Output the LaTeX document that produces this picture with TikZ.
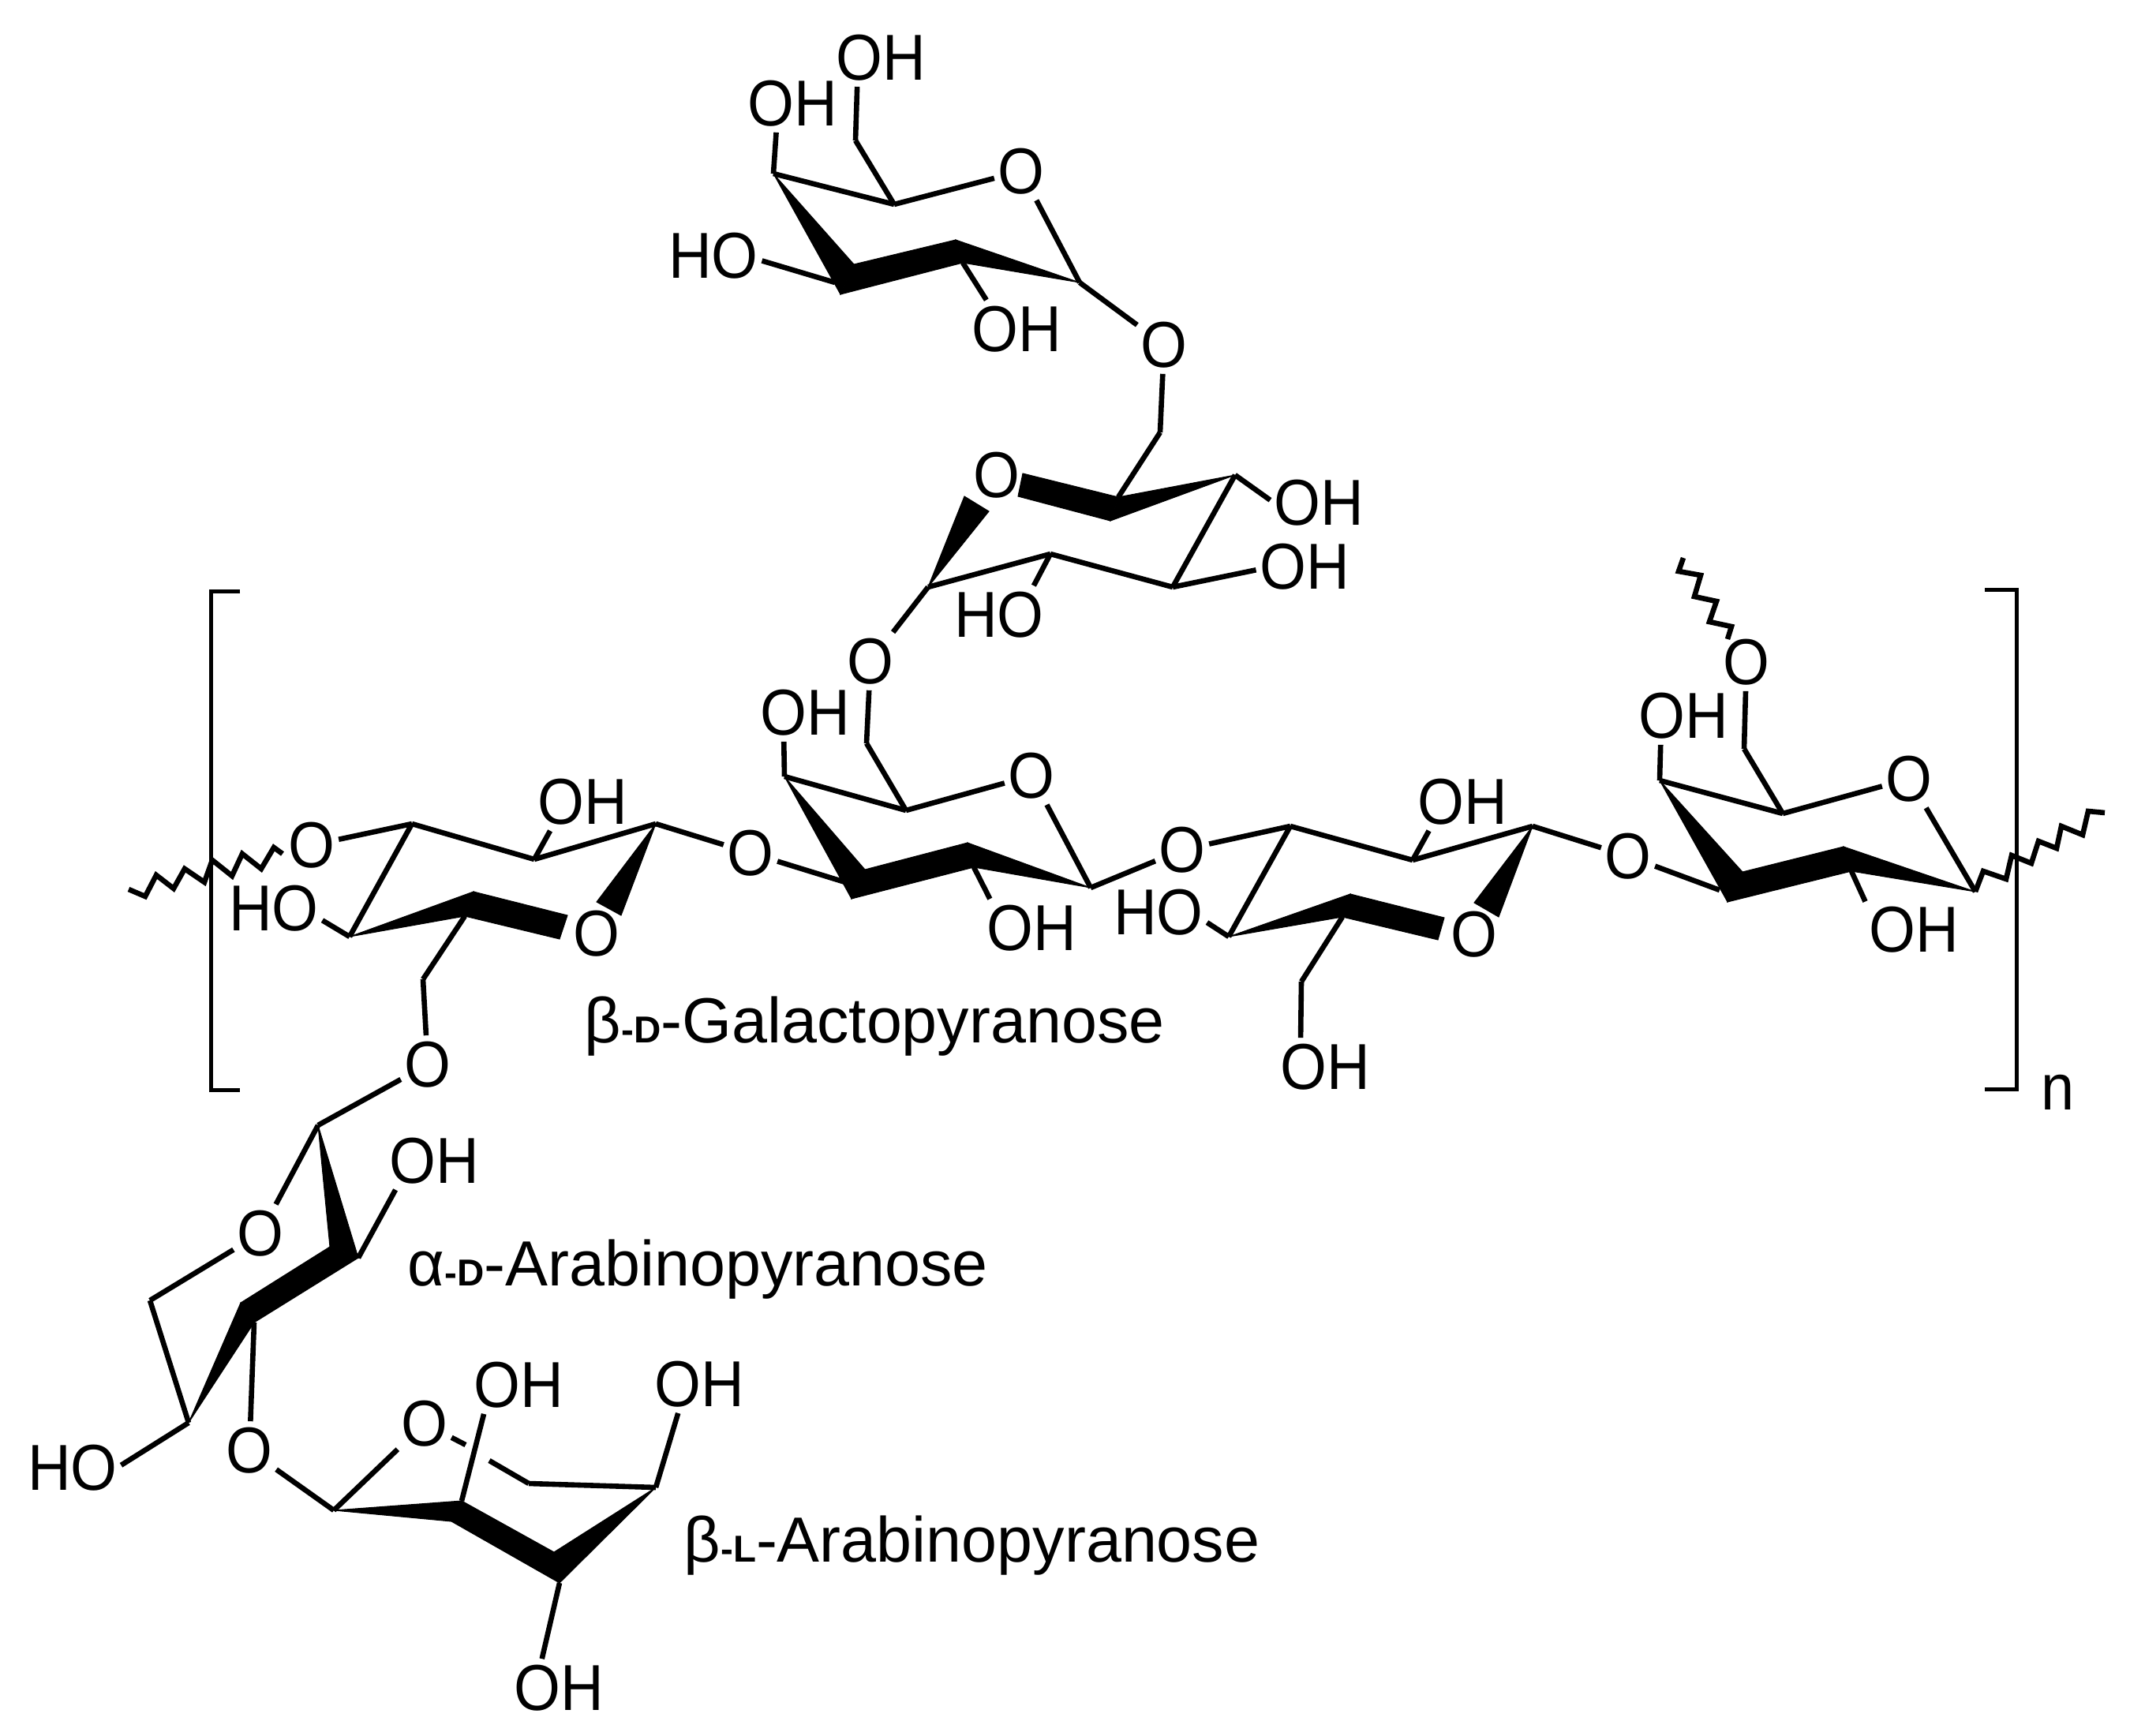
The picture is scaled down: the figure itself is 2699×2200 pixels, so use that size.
\documentclass[tikz,border=0pt]{standalone}
\usepackage{fontspec}
\setmainfont{Liberation Sans}
\newfontfamily\atomfont[FakeStretch=0.92]{Liberation Sans}
\usetikzlibrary{positioning}
\newcommand{\smallcap}[1]{{\fontsize{13.5}{14}\selectfont\bfseries #1}}

\begin{document}
\begin{tikzpicture}[
    x=0.01cm, y=-0.01cm,
    atom/.style={inner xsep=0.04cm, inner ysep=0.07cm, font=\atomfont\fontsize{23.4}{26}\selectfont},
    sugar/.style={inner sep=0pt, anchor=base west, font=\fontsize{23}{26}\selectfont},
    bond/.style={line width=0.066cm, line join=miter},
    bracket/.style={line width=0.05cm},
    solid wedge/.style={fill=black, draw=black, line width=0.01cm}
]
    \useasboundingbox (0,0) rectangle (2699,2200);

    \coordinate (t1) at (1368,358);
    \coordinate (t2a) at (1211,304);
    \coordinate (t2b) at (1220,333);
    \coordinate (t3a) at (1082,335);
    \coordinate (t3b) at (1065,373);
    \coordinate (t3c) at (1058,358);
    \coordinate (t4) at (980,220);
    \coordinate (t5) at (1133,259);
    \coordinate (t6) at (1084,178);
    \node[atom] (tor) at (1294,217) {O};
    \node[atom] (tl) at (1475,437) {O};
    \node[atom] (toh6) at (1116,73) {OH};
    \node[atom] (toh4) at (1004,131) {OH};
    \node[atom] (tho3) at (904,324) {HO};
    \node[atom] (toh2) at (1288,417) {OH};

    \fill[solid wedge] (t4) -- (t3a) -- (t3b) -- cycle;
    \fill[solid wedge] (t3a) -- (t2a) -- (t2b) -- (t3b) -- cycle;
    \fill[solid wedge] (t2a) -- (t1) -- (t2b) -- cycle;
    \draw[bond] (t4) -- (t5);
    \draw[bond] (t5) -- (tor);
    \draw[bond] (tor) -- (t1);
    \draw[bond] (t5) -- (t6);
    \draw[bond] (t6) -- (toh6.-129);
    \draw[bond] (t4) -- (toh4.-119);
    \draw[bond] (t3c) -- (tho3.-6);
    \draw[bond] (t2b) -- (toh2.136);
    \draw[bond] (t1) -- (tl);

    \coordinate (u1) at (1176,744);
    \coordinate (u2) at (1331,702);
    \coordinate (u3) at (1486,744);
    \coordinate (u4) at (1565,602);
    \coordinate (u5a) at (1417,630);
    \coordinate (u5b) at (1407,660);
    \coordinate (u6) at (1470,548);
    \coordinate (uoa) at (1296,600);
    \coordinate (uob) at (1290,629);
    \coordinate (uwa) at (1222,629);
    \coordinate (uwb) at (1253,648);
    \node[atom] (uor) at (1263,602) {O};
    \node[atom] (ul) at (1103,838) {O};
    \node[atom] (uoh4) at (1671,637) {OH};
    \node[atom] (uoh3) at (1653,718) {OH};
    \node[atom] (uho2) at (1266,779) {HO};

    \fill[solid wedge] (uoa) -- (u5a) -- (u5b) -- (uob) -- cycle;
    \fill[solid wedge] (u5a) -- (u4) -- (u5b) -- cycle;
    \fill[solid wedge] (u1) -- (uwa) -- (uwb) -- cycle;
    \draw[bond] (tl) -- (u6);
    \draw[bond] (u6) -- (u5a);
    \draw[bond] (u4) -- (uoh4.177);
    \draw[bond] (u4) -- (u3);
    \draw[bond] (u3) -- (uoh3.-176);
    \draw[bond] (u3) -- (u2);
    \draw[bond] (u2) -- (uho2.40);
    \draw[bond] (u2) -- (u1);
    \draw[bond] (u1) -- (ul);

    \coordinate (a1) at (831,1044);
    \coordinate (a2) at (677,1089);
    \coordinate (a3) at (522,1044);
    \coordinate (a4) at (443,1187);
    \coordinate (a5a) at (600,1130);
    \coordinate (a5b) at (589,1161);
    \coordinate (a6) at (536,1241);
    \coordinate (aoa) at (719,1160);
    \coordinate (aob) at (709,1190);
    \coordinate (awa) at (756,1143);
    \coordinate (awb) at (787,1160);
    \node[atom] (aor) at (756,1183) {O};
    \node[atom] (al) at (395,1071) {O};
    \node[atom] (ao6) at (542,1349) {O};
    \node[atom] (aoh2) at (738,1016) {OH};
    \node[atom] (aho4) at (347,1151) {HO};

    \fill[solid wedge] (a4) -- (a5a) -- (a5b) -- cycle;
    \fill[solid wedge] (a5a) -- (aoa) -- (aob) -- (a5b) -- cycle;
    \fill[solid wedge] (a1) -- (awa) -- (awb) -- cycle;
    \draw[bond] (al) -- (a3);
    \draw[bond] (a3) -- (a2);
    \draw[bond] (a2) -- (a1);
    \draw[bond] (a2) -- (aoh2.-138);
    \draw[bond] (a3) -- (a4);
    \draw[bond] (a4) -- (aho4.-14);
    \draw[bond] (a5b) -- (a6);
    \draw[bond] (a6) -- (ao6);

    \coordinate (b1) at (1382,1125);
    \coordinate (b2a) at (1226,1068);
    \coordinate (b2b) at (1234,1099);
    \coordinate (b3a) at (1096,1102);
    \coordinate (b3b) at (1079,1139);
    \coordinate (b3c) at (1071,1118);
    \coordinate (b4) at (994,984);
    \coordinate (b5) at (1148,1027);
    \coordinate (b6) at (1098,942);
    \node[atom] (bor) at (1307,983) {O};
    \node[atom] (bl) at (951,1081) {O};
    \node[atom] (boh4) at (1020,903) {OH};
    \node[atom] (boh2) at (1307,1176) {OH};

    \fill[solid wedge] (b4) -- (b3a) -- (b3b) -- cycle;
    \fill[solid wedge] (b3a) -- (b2a) -- (b2b) -- (b3b) -- cycle;
    \fill[solid wedge] (b2a) -- (b1) -- (b2b) -- cycle;
    \draw[bond] (ul) -- (b6);
    \draw[bond] (b6) -- (b5);
    \draw[bond] (b4) -- (b5);
    \draw[bond] (b5) -- (bor);
    \draw[bond] (bor) -- (b1);
    \draw[bond] (b4) -- (boh4.-126);
    \draw[bond] (b2b) -- (boh2.145);
    \draw[bond] (a1) -- (bl);
    \draw[bond] (bl) -- (b3c);

    \coordinate (c1) at (1942,1047);
    \coordinate (c2) at (1790,1090);
    \coordinate (c3) at (1635,1047);
    \coordinate (c4) at (1557,1187);
    \coordinate (c5a) at (1711,1133);
    \coordinate (c5b) at (1701,1162);
    \coordinate (c6) at (1649,1244);
    \coordinate (coa) at (1830,1163);
    \coordinate (cob) at (1822,1191);
    \coordinate (cwa) at (1868,1144);
    \coordinate (cwb) at (1899,1162);
    \node[atom] (cor) at (1868,1184) {O};
    \node[atom] (cl) at (1498,1077) {O};
    \node[atom] (coh2) at (1853,1016) {OH};
    \node[atom] (cho4) at (1468,1156) {HO};
    \node[atom] (coh6) at (1679,1352) {OH};

    \fill[solid wedge] (c4) -- (c5a) -- (c5b) -- cycle;
    \fill[solid wedge] (c5a) -- (coa) -- (cob) -- (c5b) -- cycle;
    \fill[solid wedge] (c1) -- (cwa) -- (cwb) -- cycle;
    \draw[bond] (b1) -- (cl);
    \draw[bond] (cl) -- (c3);
    \draw[bond] (c3) -- (c2);
    \draw[bond] (c2) -- (c1);
    \draw[bond] (c2) -- (coh2.-139);
    \draw[bond] (c3) -- (c4);
    \draw[bond] (c4) -- (cho4.-12);
    \draw[bond] (c5b) -- (c6);
    \draw[bond] (c6) -- (coh6.130);

    \coordinate (d1) at (2503,1130);
    \coordinate (d2a) at (2336,1073);
    \coordinate (d2b) at (2346,1104);
    \coordinate (d3a) at (2208,1105);
    \coordinate (d3b) at (2189,1143);
    \coordinate (d3c) at (2179,1128);
    \coordinate (d4) at (2103,989);
    \coordinate (d5) at (2259,1031);
    \coordinate (d6) at (2210,949);
    \node[atom] (dl) at (2063,1085) {O};
    \node[atom] (dor) at (2419,987) {O};
    \node[atom] (do6) at (2213,839) {O};
    \node[atom] (doh4) at (2133,907) {OH};
    \node[atom] (doh2) at (2425,1178) {OH};

    \fill[solid wedge] (d4) -- (d3a) -- (d3b) -- cycle;
    \fill[solid wedge] (d3a) -- (d2a) -- (d2b) -- (d3b) -- cycle;
    \fill[solid wedge] (d2a) -- (d1) -- (d2b) -- cycle;
    \draw[bond] (c1) -- (dl);
    \draw[bond] (dl) -- (d3c);
    \draw[bond] (d4) -- (d5);
    \draw[bond] (d5) -- (dor);
    \draw[bond] (dor) -- (d1);
    \draw[bond] (d5) -- (d6);
    \draw[bond] (d6) -- (do6);
    \draw[bond] (d4) -- (doh4.-128);
    \draw[bond] (d2b) -- (doh2.150);

    \coordinate (f1) at (403,1426);
    \coordinate (f2a) at (418,1580);
    \coordinate (f2b) at (454,1594);
    \coordinate (f3a) at (305,1651);
    \coordinate (f3b) at (322,1676);
    \coordinate (f4) at (239,1803);
    \coordinate (f5) at (190,1648);
    \node[atom] (for) at (330,1563) {O};
    \node[atom] (fl) at (316,1838) {O};
    \node[atom] (foh2) at (550,1471) {OH};
    \node[atom] (fho4) at (92,1860) {HO};

    \fill[solid wedge] (f1) -- (f2b) -- (f2a) -- cycle;
    \fill[solid wedge] (f2a) -- (f2b) -- (f3b) -- (f3a) -- cycle;
    \fill[solid wedge] (f3a) -- (f3b) -- (f4) -- cycle;
    \draw[bond] (ao6) -- (f1);
    \draw[bond] (f1) -- (for);
    \draw[bond] (for) -- (f5);
    \draw[bond] (f5) -- (f4);
    \draw[bond] (f2b) -- (foh2.-143);
    \draw[bond] (f4) -- (fho4.3);
    \draw[bond] (f3b) -- (fl);

    \coordinate (g1) at (423,1914);
    \coordinate (g2a) at (585,1902);
    \coordinate (g2b) at (572,1928);
    \coordinate (g3a) at (702,1967);
    \coordinate (g3b) at (709,2006);
    \coordinate (g4) at (831,1885);
    \coordinate (g5) at (670,1880);
    \coordinate (gcuta) at (590,1831);
    \coordinate (gcutb) at (620,1851);
    \node[atom] (gor) at (538,1804) {O};
    \node[atom] (goh2) at (657,1755) {OH};
    \node[atom] (goh4) at (886,1754) {OH};
    \node[atom] (goh3) at (708,2139) {OH};

    \fill[solid wedge] (g1) -- (g2a) -- (g2b) -- cycle;
    \fill[solid wedge] (g2a) -- (g3a) -- (g3b) -- (g2b) -- cycle;
    \fill[solid wedge] (g3a) -- (g4) -- (g3b) -- cycle;
    \draw[bond] (fl) -- (g1);
    \draw[bond] (g1) -- (gor);
    \draw[bond] (gor) -- (gcuta);
    \draw[bond] (gcutb) -- (g5);
    \draw[bond] (g5) -- (g4);
    \draw[bond] (g2a) -- (goh2.-140);
    \draw[bond] (g4) -- (goh4.-126);
    \draw[bond] (g3b) -- (goh3.120);

    \coordinate (wleft) at (163,1127);
    \coordinate (wtop) at (2133,707);
    \draw[bond] (wleft) -- ++(21,9) -- ++(14,-27) -- ++(22,17) -- ++(14,-25) -- ++(25,17)
        -- ++(10,-28) -- ++(25,20) -- ++(13,-28) -- ++(24,19) -- ++(16,-27) -- ++(11,8);
    \draw[bond] (wtop) -- ++(-6,17) -- ++(28,5) -- ++(-8,27) -- ++(28,6) -- ++(-9,26)
        -- ++(28,6) -- ++(-5,16);
    \draw[bond] (d1) -- ++(10,-26) -- ++(29,10) -- ++(7,-30) -- ++(25,10) -- ++(9,-28)
        -- ++(23,9) -- ++(6,-28) -- ++(27,11) -- ++(7,-30) -- ++(21,2);

    \coordinate (blt) at (304,749);
    \coordinate (blb) at (304,1381);
    \coordinate (brt) at (2515,747);
    \coordinate (brb) at (2515,1380);
    \draw[bracket] (blt) -- ++(-37,0) |- (blb);
    \draw[bracket] (brt) -- ++(40,0) |- (brb);
    \node[atom, anchor=base, inner sep=0pt] (nsub) at (2608,1406) {n};

    \node[sugar] (galname) at (740,1321) {β\smallcap{-D}-Galactopyranose};
    \node[sugar] (dararaname) at (516,1629) {α\smallcap{-D}-Arabinopyranose};
    \node[sugar] (laraname) at (866,1979) {β\smallcap{-L}-Arabinopyranose};
\end{tikzpicture}
\end{document}
